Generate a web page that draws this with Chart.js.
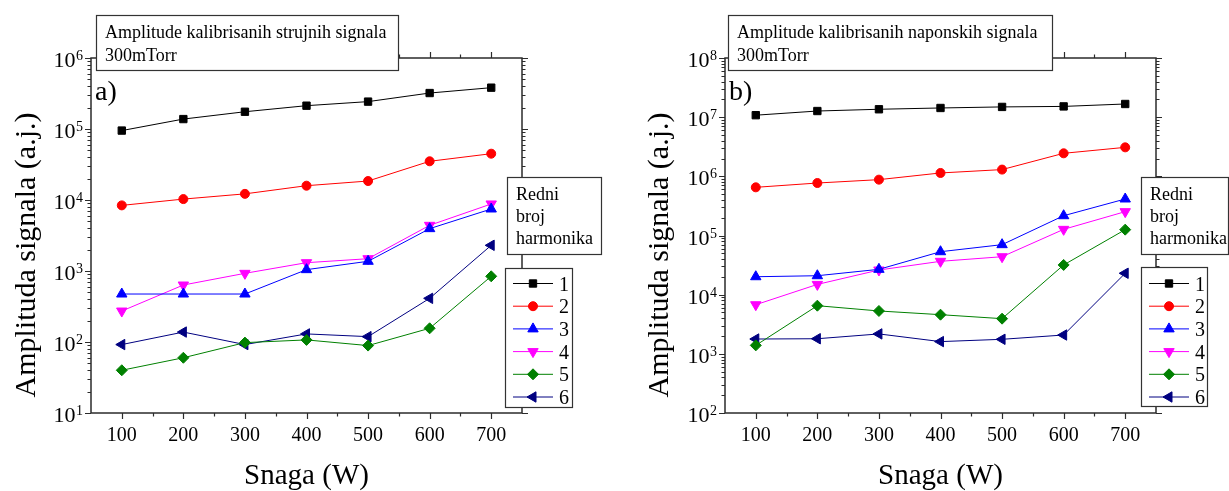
<!DOCTYPE html>
<html>
<head>
<meta charset="utf-8">
<script src="https://cdn.jsdelivr.net/npm/chart.js@4.4.0/dist/chart.umd.min.js"></script>
<style>
  html, body { margin: 0; padding: 0; background: #fff; }
  #wrap { position: relative; width: 1229px; height: 491px; overflow: hidden; }
  .panel { position: absolute; top: 0; height: 491px; }
  #pa { left: 0; width: 614px; }
  #pb { left: 614px; width: 615px; }
</style>
</head>
<body>
<div id="wrap">
  <div class="panel" id="pa"><canvas id="chartA" width="614" height="491"></canvas></div>
  <div class="panel" id="pb"><canvas id="chartB" width="615" height="491"></canvas></div>
</div>
<script>
// Snaga (W) - zajednicka x osa
const snaga = [100, 200, 300, 400, 500, 600, 700];
// Redni broj harmonika
const harmonici = ['1', '2', '3', '4', '5', '6'];

// a) strujni signali
const strujni1 = [95000, 138000, 175000, 213000, 243000, 321000, 382000];
const strujni2 = [8400, 10300, 12200, 15900, 18500, 35100, 44900];
const strujni3 = [474, 474, 474, 1045, 1370, 3950, 7470];
const strujni4 = [273, 635, 927, 1310, 1490, 4400, 8790];
const strujni5 = [40, 60, 98, 107, 89, 156, 842];
const strujni6 = [92, 138, 92, 130, 119, 412, 2300];

// b) naponski signali
const naponski1 = [10800000, 12700000, 13600000, 14300000, 14900000, 15200000, 16700000];
const naponski2 = [652000, 771000, 879000, 1140000, 1300000, 2450000, 3090000];
const naponski3 = [20100, 20900, 26800, 53200, 70000, 216000, 414000];
const naponski4 = [6760, 14900, 26100, 36600, 43800, 127000, 253000];
const naponski5 = [1390, 6510, 5300, 4590, 3930, 31800, 125600];
const naponski6 = [1780, 1800, 2170, 1610, 1760, 2080, 23000];

const boje = ['#000000', '#ff0000', '#0000ff', '#ff00ff', '#008000', '#000080'];
const oblici = ['rect', 'circle', 'triangle', 'triangle', 'rectRot', 'triangle'];
const rotacije = [0, 0, 0, 180, 0, 270];
const velicine = [5.2, 4.5, 6, 6, 5.5, 6];

const FONT = "'Liberation Serif', 'Times New Roman', serif";

// Okvir, podeoci i natpisi osa
const okvirPlugin = {
  id: 'okvir',
  beforeDatasetsDraw(chart) {
    const p = chart.options.plugins.okvir;
    const { ctx, chartArea: a } = chart;
    const xs = chart.scales.x, ys = chart.scales.y;
    ctx.save();
    ctx.strokeStyle = '#2b2b2b';
    ctx.lineWidth = 1.5;
    ctx.strokeRect(a.left, a.top, a.right - a.left, a.bottom - a.top);

    ctx.lineWidth = 1.2;
    ctx.beginPath();
    // x podeoci (gore i dole, ka spolja)
    for (let i = 0; i < snaga.length; i++) {
      const px = Math.round(xs.getPixelForValue(snaga[i])) + 0.5;
      ctx.moveTo(px, a.bottom); ctx.lineTo(px, a.bottom + 6);
      ctx.moveTo(px, a.top); ctx.lineTo(px, a.top - 6);
      if (i < snaga.length - 1) {
        const pm = Math.round(xs.getPixelForValue((snaga[i] + snaga[i + 1]) / 2)) + 0.5;
        ctx.moveTo(pm, a.bottom); ctx.lineTo(pm, a.bottom + 3.5);
        ctx.moveTo(pm, a.top); ctx.lineTo(pm, a.top - 3.5);
      }
    }
    // y podeoci (levo i desno, ka spolja)
    const dMin = Math.round(Math.log10(ys.min)), dMax = Math.round(Math.log10(ys.max));
    for (let d = dMin; d <= dMax; d++) {
      for (let k = 1; k <= 9; k++) {
        if (d === dMax && k > 1) break;
        const py = Math.round(ys.getPixelForValue(k * Math.pow(10, d))) + 0.5;
        const len = k === 1 ? 6 : 3.5;
        ctx.moveTo(a.left, py); ctx.lineTo(a.left - len, py);
        ctx.moveTo(a.right, py); ctx.lineTo(a.right + len, py);
      }
    }
    ctx.stroke();

    ctx.fillStyle = '#000';
    // x natpisi
    ctx.font = '20px ' + FONT;
    ctx.textAlign = 'center';
    ctx.textBaseline = 'alphabetic';
    snaga.forEach(v => ctx.fillText(String(v), xs.getPixelForValue(v), a.bottom + 28));
    // y natpisi 10^n
    for (let d = dMin; d <= dMax; d++) {
      const py = ys.getPixelForValue(Math.pow(10, d));
      ctx.font = '22px ' + FONT;
      ctx.textAlign = 'right';
      ctx.fillText('10', a.left - 15.5, py + 9);
      ctx.font = '14px ' + FONT;
      ctx.textAlign = 'left';
      ctx.fillText(String(d), a.left - 15, py + 2);
    }
    // nazivi osa
    ctx.font = '29px ' + FONT;
    ctx.textAlign = 'center';
    ctx.fillText('Snaga (W)', (a.left + a.right) / 2, 484);
    ctx.save();
    ctx.translate(p.yNaslovX, 255);
    ctx.rotate(-Math.PI / 2);
    ctx.font = '30px ' + FONT;
    ctx.fillText('Amplituda signala (a.j.)', 0, 0);
    ctx.restore();
    ctx.restore();
  },
  afterDraw(chart) {
    const p = chart.options.plugins.okvir;
    const ctx = chart.ctx;
    ctx.save();
    const kutija = (b) => {
      ctx.fillStyle = '#fff';
      ctx.fillRect(b.x, b.y, b.w, b.h);
      ctx.strokeStyle = '#333';
      ctx.lineWidth = 1.2;
      ctx.strokeRect(b.x + 0.5, b.y + 0.5, b.w, b.h);
    };
    // naslov
    kutija(p.naslovBox);
    ctx.fillStyle = '#000';
    ctx.font = '18px ' + FONT;
    ctx.textAlign = 'left';
    ctx.textBaseline = 'alphabetic';
    ctx.fillText(p.naslov, p.naslovBox.x + 9, 37.5);
    ctx.fillText('300mTorr', p.naslovBox.x + 9, 60.5);
    // oznaka panela
    ctx.font = '28px ' + FONT;
    ctx.fillText(p.oznaka, p.oznakaX, 100);
    // Redni broj harmonika
    kutija(p.redniBox);
    ctx.fillStyle = '#000';
    ctx.font = '18px ' + FONT;
    ['Redni', 'broj', 'harmonika'].forEach((t, i) => ctx.fillText(t, p.redniBox.x + 9, 200 + i * 22));
    // legenda
    const L = p.legendaBox;
    kutija(L);
    chart.data.datasets.forEach((ds, i) => {
      const ry = 283.5 + i * 22.7;
      ctx.strokeStyle = ds.borderColor;
      ctx.lineWidth = 1;
      ctx.beginPath();
      ctx.moveTo(L.x + 8, ry); ctx.lineTo(L.x + 48, ry);
      ctx.stroke();
      ctx.fillStyle = ds.backgroundColor;
      Chart.helpers.drawPoint(ctx, {
        pointStyle: ds.pointStyle, rotation: ds.pointRotation,
        radius: ds.pointRadius, borderWidth: 1
      }, L.x + 28, ry);
      ctx.fillStyle = '#000';
      ctx.font = '20px ' + FONT;
      ctx.textAlign = 'left';
      ctx.fillText(ds.label, L.x + 54, ry + 7);
    });
    ctx.restore();
  }
};

function napraviGrafik(canvasId, vrednosti, p) {
  const datasets = harmonici.map((naziv, i) => ({
    label: naziv,
    data: snaga.map((x, j) => ({ x: x, y: vrednosti[i][j] })),
    borderColor: boje[i],
    backgroundColor: boje[i],
    borderWidth: 1,
    pointStyle: oblici[i],
    pointRotation: rotacije[i],
    pointRadius: velicine[i],
    pointBorderWidth: 1,
    pointHoverRadius: velicine[i],
    tension: 0
  }));

  return new Chart(document.getElementById(canvasId), {
    type: 'line',
    data: { datasets: datasets },
    options: {
      responsive: false,
      animation: false,
      layout: { padding: p.padding },
      plugins: {
        legend: { display: false },
        tooltip: { enabled: false },
        okvir: p
      },
      scales: {
        x: { type: 'linear', min: 50, max: 750, display: false },
        y: { type: 'logarithmic', min: p.yMin, max: p.yMax, display: false }
      }
    },
    plugins: [okvirPlugin]
  });
}

napraviGrafik('chartA',
  [strujni1, strujni2, strujni3, strujni4, strujni5, strujni6], {
    yMin: 10, yMax: 1e6,
    padding: { left: 91, top: 58, right: 92, bottom: 78 },
    naslov: 'Amplitude kalibrisanih strujnih signala',
    naslovBox: { x: 96, y: 15, w: 302, h: 55 },
    oznaka: 'a)', oznakaX: 95,
    yNaslovX: 35,
    redniBox: { x: 507, y: 177, w: 94, h: 77 },
    legendaBox: { x: 505, y: 268, w: 67, h: 139 }
  });

napraviGrafik('chartB',
  [naponski1, naponski2, naponski3, naponski4, naponski5, naponski6], {
    yMin: 100, yMax: 1e8,
    padding: { left: 111, top: 58, right: 73, bottom: 78 },
    naslov: 'Amplitude kalibrisanih naponskih signala',
    naslovBox: { x: 114, y: 15, w: 324, h: 55 },
    oznaka: 'b)', oznakaX: 115,
    yNaslovX: 54,
    redniBox: { x: 527, y: 177, w: 87, h: 77 },
    legendaBox: { x: 527, y: 267, w: 66, h: 139 }
  });
</script>
</body>
</html>
